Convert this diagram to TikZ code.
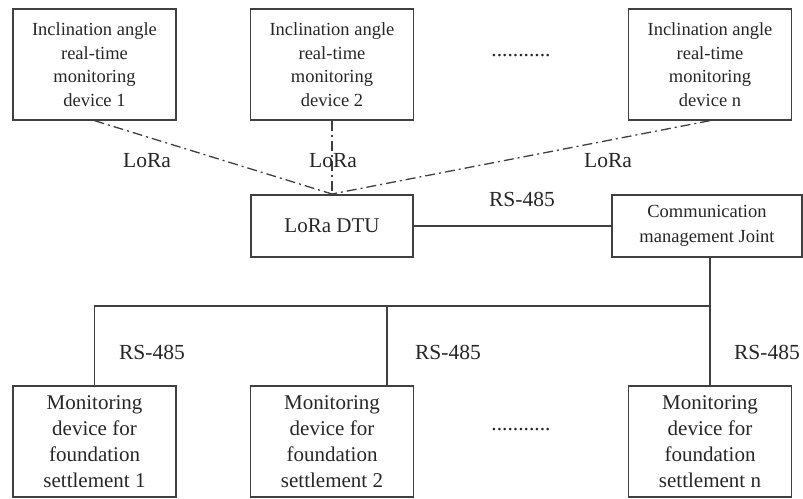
\documentclass[tikz,border=0pt]{standalone}
\usepackage{fontspec}
\setmainfont{Liberation Serif}
\begin{document}
\begin{tikzpicture}[x=1pt,y=-1pt,
  box/.style={draw=black!75, line width=1.3pt, inner sep=0pt, align=center, text=black!85},
  topbox/.style={box, minimum width=163pt, minimum height=111pt, font=\fontsize{18.5}{23.5}\selectfont},
  botbox/.style={box, minimum width=163pt, minimum height=111pt, font=\fontsize{21}{26}\selectfont},
  lbl/.style={inner sep=0pt, text=black!85, font=\fontsize{21.5}{26}\selectfont},
  wire/.style={draw=black!75, line width=1.3pt},
  lora/.style={draw=black!75, line width=1.3pt, dash pattern=on 10pt off 4pt on 2pt off 4pt}]
\useasboundingbox (0,0) rectangle (803,498);
% top devices
\node[topbox] (t1) at (94.5,64.5) {Inclination angle\\real-time\\monitoring\\device 1};
\node[topbox] (t2) at (332,64.5) {Inclination angle\\real-time\\monitoring\\device 2};
\node[topbox] (tn) at (710,64.5) {Inclination angle\\real-time\\monitoring\\device n};
\node[lbl] (tdots) at (521,56) {...........};
% DTU and comm
\node[box, minimum width=162pt, minimum height=62pt, font=\fontsize{21}{26}\selectfont] (dtu) at (332,226) {LoRa DTU};
\node[box, minimum width=190pt, minimum height=62pt, font=\fontsize{18.5}{25}\selectfont] (comm) at (707,226) {Communication\\management Joint};
% bottom devices
\node[botbox] (m1) at (94.5,441.5) {Monitoring\\device for\\foundation\\settlement 1};
\node[botbox] (m2) at (332,441.5) {Monitoring\\device for\\foundation\\settlement 2};
\node[botbox] (mn) at (710,441.5) {Monitoring\\device for\\foundation\\settlement n};
\node[lbl] (bdots) at (521,430) {...........};
% LoRa links
\coordinate (hub) at (332,194);
\draw[lora] (t1.south) -- (hub);
\draw[lora] (t2.south) -- (hub);
\draw[lora] (tn.south) -- (hub);
\node[lbl] (l1) at (147,161) {LoRa};
\node[lbl] (l2) at (333,161) {LoRa};
\node[lbl] (l3) at (608,161) {LoRa};
% RS-485 links
\draw[wire] (dtu.east) -- (comm.west);
\node[lbl] (r0) at (522,199) {RS-485};
\coordinate (bus) at (0,306);
\coordinate (m2tap) at ([xshift=55pt]m2.north);
\draw[wire] (comm.south -| mn.north) -- (mn.north);
\draw[wire] (m1.north) -- (m1.north |- bus) -- (bus -| mn.north);
\draw[wire] (m2tap) -- (m2tap |- bus);
\node[lbl] (r1) at (152,352) {RS-485};
\node[lbl] (r2) at (448,352) {RS-485};
\node[lbl] (r3) at (767,352) {RS-485};
\end{tikzpicture}
\end{document}
